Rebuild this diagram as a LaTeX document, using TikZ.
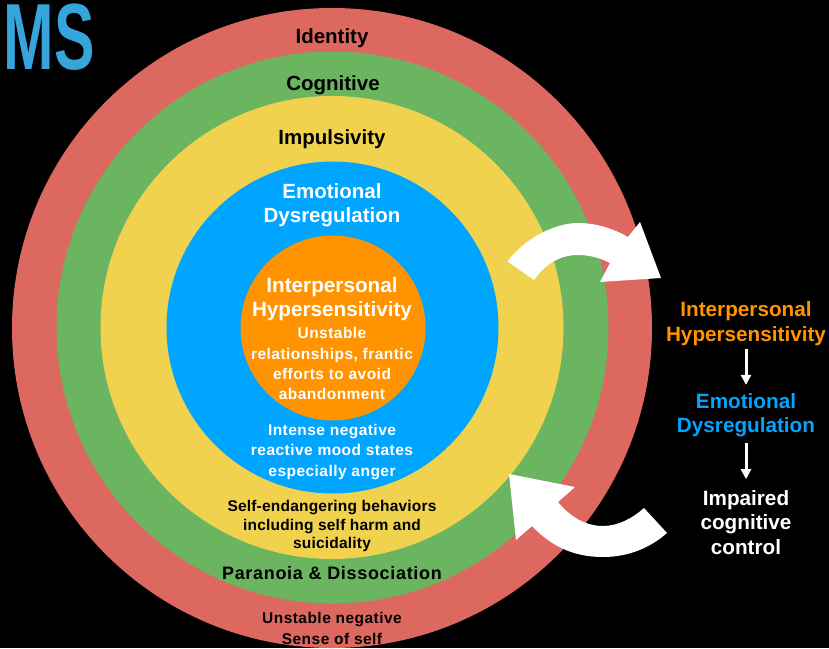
\documentclass[tikz,border=0pt]{standalone}
\usepackage{fontspec}
\setmainfont{Liberation Sans}
\newfontfamily\logofont[FakeStretch=0.645]{Liberation Sans}
\usetikzlibrary{arrows.meta}
\definecolor{ringred}{HTML}{DD6860}
\definecolor{ringgreen}{HTML}{6CB560}
\definecolor{ringyellow}{HTML}{F1D24F}
\definecolor{ringblue}{HTML}{00A5FF}
\definecolor{ringorange}{HTML}{FF9300}
\definecolor{msblue}{HTML}{36A5DC}
\begin{document}
\begin{tikzpicture}[x=1pt,y=-1pt,
        ring/.style={circle,inner sep=0pt},
        bigtext/.style={align=center,inner sep=0pt,font=\bfseries\fontsize{20.5}{24}\selectfont},
        midtext/.style={align=center,inner sep=0pt,font=\bfseries\fontsize{18}{21}\selectfont\addfontfeatures{LetterSpace=3.8}},
        smalltext/.style={align=center,inner sep=0pt,font=\bfseries\fontsize{15.5}{20.2}\selectfont\addfontfeatures{LetterSpace=3}},
        tighttext/.style={align=center,inner sep=0pt,font=\bfseries\fontsize{15.5}{18.5}\selectfont\addfontfeatures{LetterSpace=1.3}},
        sidetext/.style={align=center,inner sep=2pt,font=\bfseries\fontsize{20.7}{24.5}\selectfont},
        flow/.style={white,line width=3pt,-{Triangle[width=10pt,length=10pt]}},
        bigarrow/.style={fill=white,draw=none}]
        \useasboundingbox (0,0) rectangle (829,648);
        \clip (0,0) rectangle (829,648);
        \fill[black] (0,0) rectangle (829,648);
        % Rings
        \node[ring,fill=ringred,minimum size=640pt] (identity) at (332,328) {};
        \node[ring,fill=ringgreen,minimum size=552pt] (cognitive) at (332.5,327.5) {};
        \node[ring,fill=ringyellow,minimum size=463pt] (impulsivity) at (332,327.5) {};
        \node[ring,fill=ringblue,minimum size=332pt] (emotional) at (332.5,327.5) {};
        \node[ring,fill=ringorange,minimum size=185pt] (interpersonal) at (333,328) {};
        % Logo
        \node[inner sep=0pt,text=msblue,font=\logofont\bfseries\fontsize{94}{94}\selectfont] (logo) at (49,37.5) {MS};
        % Ring labels
        \node[bigtext] (identitytext) at (332,38) {Identity};
        \node[bigtext] (cognitivetext) at (333,85) {Cognitive};
        \node[bigtext] (impulsivitytext) at (332,139) {Impulsivity};
        \node[bigtext,text=white] (emotionaltext) at (332,205) {Emotional\\Dysregulation};
        \node[sidetext,inner sep=0pt,text=white] (interpersonaltext) at (332,299) {Interpersonal\\Hypersensitivity};
        \node[smalltext,text=white] (relationstext) at (332,363.7) {Unstable\\relationships, frantic\\efforts to avoid\\abandonment};
        \node[smalltext,text=white] (moodtext) at (332,452) {Intense negative\\reactive mood states\\especially anger};
        \node[tighttext] (selfharmtext) at (332,526) {Self-endangering behaviors\\including self harm and\\suicidality};
        \node[midtext] (paranoiatext) at (332,573) {Paranoia \& Dissociation};
        \node[smalltext] (selftext) at (332,628.5) {Unstable negative\\Sense of self};
        % Right column
        \node[sidetext,text=ringorange] (sidehyper) at (746,323.5) {Interpersonal\\Hypersensitivity};
        \node[sidetext,text=ringblue] (sidedys) at (746,415) {Emotional\\Dysregulation};
        \node[sidetext,text=white] (sidecontrol) at (746,522.5) {Impaired\\cognitive\\control};
        \draw[flow,shorten <=1pt,shorten >=6pt] (sidehyper) -- (sidedys);
        \draw[flow,shorten <=4pt,shorten >=9pt] (sidedys) -- (sidecontrol);
        % Big arrows
        \fill[bigarrow] (507.5,261.5) .. controls (525,238) and (555,223) .. (578,223)
            .. controls (597,223) and (614,229) .. (628,237) -- (640,222) -- (661,278) -- (600,282) -- (610,263)
            .. controls (600,258) and (590,255) .. (578,255)
            .. controls (560,255) and (545,264) .. (534,280) -- cycle;
        \fill[bigarrow] (667,533) .. controls (650,548) and (628,557) .. (603,557)
            .. controls (572,557) and (550,545) .. (532,526) -- (516,540) -- (509,474) -- (575,487) -- (558,502)
            .. controls (570,517) and (586,526) .. (603,526)
            .. controls (618,526) and (633,518) .. (644,508) -- cycle;
    \end{tikzpicture}
\end{document}
